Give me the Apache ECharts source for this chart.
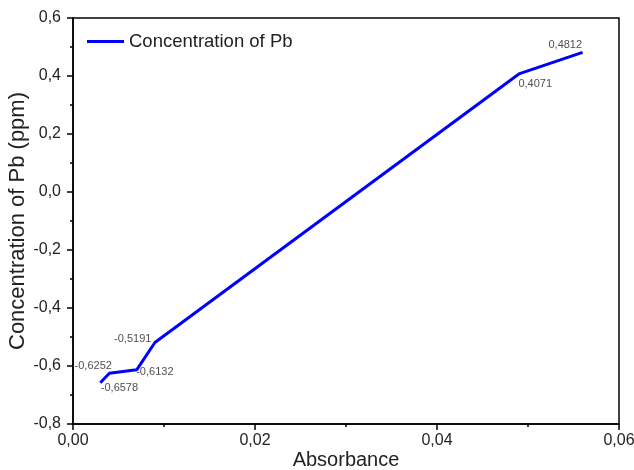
<!DOCTYPE html>
<html><head><meta charset="utf-8">
<script src="https://cdn.jsdelivr.net/npm/echarts@6/dist/echarts.min.js"></script>
<style>html,body{margin:0;padding:0;background:#fff}#c{width:634px;height:470px}</style>
</head><body><div id="c"></div>
<script>
const absorbance = [0.003, 0.004, 0.007, 0.009, 0.049, 0.056];
const concentration = [-0.6578, -0.6252, -0.6132, -0.5191, 0.4071, 0.4812];
const seriesName = 'Concentration of Pb';
const xTitle = 'Absorbance';
const yTitle = 'Concentration of Pb (ppm)';

const labelLayout = [
  {position:[1,0], align:'left', verticalAlign:'top'},
  {position:[3,-1], align:'right', verticalAlign:'bottom'},
  {position:[0,-3], align:'left', verticalAlign:'top'},
  {position:[-3,2], align:'right', verticalAlign:'bottom'},
  {position:[0,5], align:'left', verticalAlign:'top'},
  {position:[0,-1], align:'right', verticalAlign:'bottom'}
];
const fmt = (v, d) => v.toFixed(d).replace('.', ',');
const points = absorbance.map((x, i) => [x, concentration[i]]);
const labelData = absorbance.map((x, i) => ({
  value: [x, concentration[i]],
  label: Object.assign({show:true, formatter: fmt(concentration[i], 4)}, labelLayout[i])
}));

const chart = echarts.init(document.getElementById('c'), null, {renderer:'canvas'});
const font = 'Arial, "Liberation Sans", sans-serif';
chart.setOption({
  animation:false,
  backgroundColor:'#fff',
  textStyle:{fontFamily:font},
  grid:{left:73, right:15, top:18, bottom:46, containLabel:false, outerBoundsMode:'none',
    show:true, borderColor:'#000', borderWidth:1.5, backgroundColor:'transparent'},
  legend:{show:true, left:82, top:27, icon:'rect', itemWidth:37, itemHeight:3, itemGap:8,
    textStyle:{fontSize:18.5, color:'#222', fontFamily:font}, data:[seriesName]},
  xAxis:{type:'value', min:0, max:0.06, interval:0.02,
    name:xTitle, nameLocation:'middle', nameGap:26, nameMoveOverlap:false,
    nameTextStyle:{fontSize:20, color:'#222', fontFamily:font},
    axisLine:{onZero:false, lineStyle:{color:'#000', width:1.5}},
    axisTick:{show:true, inside:false, length:6, lineStyle:{color:'#000', width:1.5}},
    minorTick:{show:true, splitNumber:2, length:3, lineStyle:{color:'#000', width:1.5}},
    axisLabel:{fontSize:16, color:'#222', margin:9, formatter:v=>fmt(v,2)},
    splitLine:{show:false}},
  yAxis:{type:'value', min:-0.8, max:0.6, interval:0.2,
    name:yTitle, nameLocation:'middle', nameGap:44, nameMoveOverlap:false,
    nameTextStyle:{fontSize:22, color:'#222', fontFamily:font},
    axisLine:{show:true, onZero:false, lineStyle:{color:'#000', width:1.5}},
    axisTick:{show:true, inside:false, length:6, lineStyle:{color:'#000', width:1.5}},
    minorTick:{show:true, splitNumber:2, length:3, lineStyle:{color:'#000', width:1.5}},
    axisLabel:{fontSize:16, color:'#222', margin:12, formatter:v=>fmt(v,1)},
    splitLine:{show:false}},
  series:[{
    name:seriesName, type:'line', data:points,
    symbol:'none', color:'#0000ff',
    lineStyle:{color:'#0000ff', width:3},
    emphasis:{disabled:true}
  },{
    name:'labels', type:'scatter', data:labelData,
    symbolSize:1, itemStyle:{color:'rgba(0,0,0,0)'},
    label:{fontSize:11, color:'#222', fontFamily:font},
    emphasis:{disabled:true}, silent:true, z:5
  }]
});
</script></body></html>
